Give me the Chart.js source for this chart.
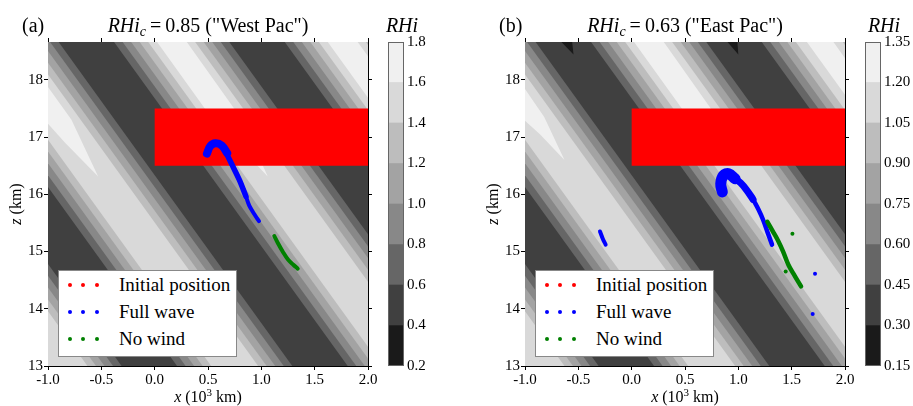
<!DOCTYPE html>
<html>
<head>
<meta charset="utf-8">
<script src="https://cdn.jsdelivr.net/npm/chart.js@4.4.1/dist/chart.umd.min.js"></script>
<style>
  body { margin:0; width:913px; height:406px; background:#fff; position:relative; overflow:hidden;
         font-family:"Liberation Serif","Times New Roman",serif; color:#000; }
  canvas { position:absolute; top:0; }
  .txt { position:absolute; white-space:nowrap; }
  .ttl { font-size:20px; line-height:22px; top:14px; }
  .axl { font-size:16px; line-height:20px; }
  .leg { position:absolute; top:270px; width:179px; height:87px; background:#fff;
         border:1px solid #888; box-sizing:border-box; }
  .leg .row { position:absolute; left:60px; font-size:19px; line-height:22px; white-space:nowrap; }
  .leg .dot { position:absolute; width:4px; height:4px; border-radius:50%; }
  .eq { padding:0 4px; }
  sub { font-size:14px; vertical-align:-4px; line-height:0; }
  sup { font-size:11px; vertical-align:6px; line-height:0; }
</style>
</head>
<body>
<canvas id="panelA" width="382" height="406" style="left:0px"></canvas>
<canvas id="barA" width="60" height="406" style="left:380px"></canvas>
<canvas id="panelB" width="382" height="406" style="left:477px"></canvas>
<canvas id="barB" width="56" height="406" style="left:857px"></canvas>
<div id="overlay"></div>
<script>
// ---- axes ----
const xRange = [-1, 2];          // x (10^3 km)
const zRange = [13, 18.66];      // z (km)
const xTicks = [-1.0, -0.5, 0.0, 0.5, 1.0, 1.5, 2.0];
const zTicks = [13, 14, 15, 16, 17, 18];

// ---- RHi contour levels of the two cases ----
const rhiCritical = [0.85, 0.63];
const caseNames = ['West Pac', 'East Pac'];
const rhiLevelsWest = [0.2, 0.4, 0.6, 0.8, 1.0, 1.2, 1.4, 1.6, 1.8];
const rhiLevelsEast = [0.15, 0.30, 0.45, 0.60, 0.75, 0.90, 1.05, 1.20, 1.35];

// ---- wave pattern: moist ridges run along lines of constant u = x + tilt*(z-13) ----
const ridgePhase = [-0.85, 0.75, 2.35, 3.95];
const ridgeTilt = 0.387;
// half width (in u) of the regions above the 3rd..7th contour level
const ridgeHalfWidth = [0.54, 0.46, 0.38, 0.30, 0.22];

// regions above the top contour level, [x, z] outlines
const topLevelWest = [
  [[-1.56, 18.6], [-1.28, 18.6], [-0.78, 17.3], [-0.53, 16.31], [-0.84, 16.9], [-1.13, 17.5]],
  [[-0.07, 18.9], [0.21, 18.9], [0.82, 17.3], [1.06, 16.31], [0.76, 16.9], [0.47, 17.5]],
  [[1.53, 18.9], [1.81, 18.9], [2.74, 16.5], [2.46, 16.5]]
];
const topLevelEast = [
  [[-1.56, 18.6], [-1.28, 18.6], [-0.82, 17.35], [-0.63, 16.6], [-0.86, 17.05], [-1.13, 17.5]],
  [[-0.07, 18.9], [0.21, 18.9], [0.78, 17.4], [0.95, 16.7], [0.72, 17.1], [0.47, 17.5]],
  [[1.55, 18.9], [1.80, 18.9], [2.72, 16.5], [2.48, 16.5]]
];
// regions below the lowest contour level (East Pac only)
const bottomLevelEast = [
  [[-0.68, 18.7], [-0.56, 18.7], [-0.545, 18.44]],
  [[0.88, 18.7], [0.99, 18.7], [1.0, 18.44]]
];

// ---- parcels ----
const initialBoxX = [0, 2];
const initialBoxZ = [16.5, 17.5];

const fullWaveWestHead = [[0.49, 16.71], [0.52, 16.84], [0.57, 16.89], [0.63, 16.85], [0.68, 16.72]];
const fullWaveWestTail = [[0.65, 16.80], [0.716, 16.55], [0.794, 16.25], [0.856, 15.96]];
const fullWaveWestEnd  = [[0.856, 15.96], [0.887, 15.80], [0.935, 15.65], [0.978, 15.53]];
const noWindWest = [[1.122, 15.27], [1.16, 15.13], [1.20, 15.00], [1.25, 14.86], [1.30, 14.77], [1.341, 14.70]];

const fullWaveEastHead = [[0.85, 16.04], [0.835, 16.18], [0.86, 16.33], [0.91, 16.36], [0.97, 16.27]];
const fullWaveEastTail = [[0.95, 16.30], [1.02, 16.20], [1.08, 16.07], [1.138, 15.91]];
const fullWaveEastEnd  = [[1.138, 15.91], [1.19, 15.73], [1.231, 15.56], [1.275, 15.33], [1.316, 15.12]];
const fullWaveEastWest = [[-0.297, 15.35], [-0.27, 15.22], [-0.244, 15.12]];
const fullWaveEastDots = [[1.719, 14.61], [1.697, 13.91]];
const noWindEast = [[1.272, 15.52], [1.33, 15.33], [1.375, 15.18], [1.42, 15.0], [1.469, 14.77], [1.53, 14.57], [1.588, 14.39]];
const noWindEastDots = [[1.507, 15.31], [1.444, 14.65]];

// ---- styling ----
const shades = ['#1a1a1a', '#404040', '#666666', '#888888', '#a3a3a3', '#bdbdbd', '#d9d9d9', '#f0f0f0'];
const RED = '#ff0000', BLUE = '#0000ff', GREEN = '#008000';

Chart.defaults.font.family = '"Liberation Serif", "Times New Roman", serif';
Chart.defaults.color = '#000';

const pts = arr => arr.map(([x, y]) => ({x, y}));
function joinPolys(polys) {
  const out = [];
  polys.forEach((p, i) => { if (i) out.push({x: null, y: null}); out.push(...p); });
  return out;
}
function ridgeBand(u, hw) {
  const zA = 12.5, zB = 19.2;
  const xAt = (p, z) => p - ridgeTilt * (z - 13);
  return [{x: xAt(u - hw, zA), y: zA}, {x: xAt(u + hw, zA), y: zA},
          {x: xAt(u + hw, zB), y: zB}, {x: xAt(u - hw, zB), y: zB}];
}
const area = (data, color, label) => ({type: 'line', label, data, fill: 'shape', backgroundColor: color,
  borderColor: 'rgba(0,0,0,0)', borderWidth: 0, pointRadius: 0, tension: 0});
const streak = (data, color, width, label) => ({type: 'line', label, data: pts(data), fill: false,
  borderColor: color, borderWidth: width, pointRadius: 0, tension: 0.35,
  borderCapStyle: 'round', borderJoinStyle: 'round'});
const dots = (data, color, label) => ({type: 'scatter', label, data: pts(data), showLine: false,
  pointRadius: 2, backgroundColor: color, borderWidth: 0});

function fieldLayers(topLevel, bottomLevel) {
  const layers = [];
  layers.push(area([{x: -1.5, y: 12.5}, {x: 2.5, y: 12.5}, {x: 2.5, y: 19.2}, {x: -1.5, y: 19.2}], shades[1], 'RHi'));
  ridgeHalfWidth.forEach((hw, k) => {
    layers.push(area(joinPolys(ridgePhase.map(u => ridgeBand(u, hw))), shades[2 + k], 'RHi'));
  });
  layers.push(area(joinPolys(topLevel.map(pts)), shades[7], 'RHi'));
  if (bottomLevel) layers.push(area(joinPolys(bottomLevel.map(pts)), shades[0], 'RHi'));
  const box = [[initialBoxX[0], initialBoxZ[0]], [initialBoxX[1] + 0.2, initialBoxZ[0]],
               [initialBoxX[1] + 0.2, initialBoxZ[1]], [initialBoxX[0], initialBoxZ[1]]];
  layers.push(area(pts(box), RED, 'Initial position'));
  return layers;
}

function axisOpts(axis, position, ticks, range, fmt, size) {
  const horiz = axis === 'x';
  return {
    type: 'linear', axis, position, min: range[0], max: range[1],
    afterBuildTicks: s => { s.ticks = ticks.map(v => ({value: v})); },
    ticks: {display: fmt !== null, callback: v => fmt ? fmt(v) : '', font: {size: 15},
            padding: 1, maxRotation: 0, autoSkip: false},
    grid: {drawOnChartArea: false, drawTicks: true, tickLength: 4, color: '#000', lineWidth: 1},
    border: {display: true, color: '#000', width: 1},
    afterFit: s => { if (horiz) s.height = size; else s.width = size; }
  };
}

function panel(id, layers) {
  return new Chart(document.getElementById(id), {
    type: 'scatter',
    data: {datasets: layers.map((d, i) => Object.assign({order: layers.length - i}, d))},
    options: {
      responsive: false, animation: false, devicePixelRatio: 1, events: [],
      layout: {padding: {top: 38, left: 0, right: 10, bottom: 0}},
      plugins: {legend: {display: false}, tooltip: {enabled: false}},
      scales: {
        x: axisOpts('x', 'bottom', xTicks, xRange, v => v.toFixed(1), 40),
        x2: axisOpts('x', 'top', xTicks, xRange, null, 4),
        y: axisOpts('y', 'left', zTicks, zRange, v => String(v), 48),
        y2: axisOpts('y', 'right', zTicks, zRange, null, 4)
      }
    }
  });
}

const outline = {
  id: 'outline',
  afterDatasetsDraw(chart) {
    const {ctx, chartArea: a} = chart;
    ctx.save();
    ctx.strokeStyle = '#666';
    ctx.lineWidth = 1;
    ctx.strokeRect(a.left + 0.5, a.top + 0.5, a.right - a.left - 1, a.bottom - a.top - 1);
    ctx.restore();
  }
};

function colourBar(id, levels, digits, axisWidth) {
  const datasets = levels.slice(0, -1).map((lo, i) => ({
    data: [[lo, levels[i + 1]]], backgroundColor: shades[i], borderWidth: 0,
    barPercentage: 1, categoryPercentage: 1, grouped: false
  }));
  return new Chart(document.getElementById(id), {
    type: 'bar',
    data: {labels: [''], datasets},
    options: {
      responsive: false, animation: false, devicePixelRatio: 1, events: [],
      layout: {padding: {top: 42, left: 8, right: 0, bottom: 40}},
      plugins: {legend: {display: false}, tooltip: {enabled: false}},
      scales: {
        x: {display: false, stacked: true},
        y: {
          position: 'right', min: levels[0], max: levels[levels.length - 1], stacked: false,
          afterBuildTicks: s => { s.ticks = levels.map(v => ({value: v})); },
          ticks: {callback: v => v.toFixed(digits), font: {size: 15}, padding: 3},
          grid: {display: false, drawTicks: false}, border: {display: false},
          afterFit: s => { s.width = axisWidth; }
        }
      }
    },
    plugins: [outline]
  });
}

// ---- (a) West Pac ----
const layersWest = fieldLayers(topLevelWest, null).concat([
  streak(fullWaveWestTail, BLUE, 5.5, 'Full wave'),
  streak(fullWaveWestEnd, BLUE, 4, 'Full wave'),
  streak(fullWaveWestHead, BLUE, 8, 'Full wave'),
  streak(noWindWest, GREEN, 4, 'No wind')
]);
panel('panelA', layersWest);
colourBar('barA', rhiLevelsWest, 1, 36);

// ---- (b) East Pac ----
const layersEast = fieldLayers(topLevelEast, bottomLevelEast).concat([
  streak(fullWaveEastTail, BLUE, 7, 'Full wave'),
  streak(fullWaveEastEnd, BLUE, 4.5, 'Full wave'),
  streak(fullWaveEastHead, BLUE, 11, 'Full wave'),
  streak(fullWaveEastWest, BLUE, 4, 'Full wave'),
  dots(fullWaveEastDots, BLUE, 'Full wave'),
  streak(noWindEast, GREEN, 4.5, 'No wind'),
  dots(noWindEastDots, GREEN, 'No wind')
]);
panel('panelB', layersEast);
colourBar('barB', rhiLevelsEast, 2, 32);

// ---- titles, axis labels and legends ----
const legendRows = [['Initial position', RED], ['Full wave', BLUE], ['No wind', GREEN]];
function decorate(dx, tag, i) {
  const plotL = 48 + dx, plotW = 320, cbC = 402 + dx + (i ? 5 : 0);
  let h = '';
  h += `<div class="txt ttl" style="left:${22 + dx}px">(${tag})</div>`;
  h += `<div class="txt ttl" style="left:${plotL}px;width:${plotW}px;text-align:center">` +
       `<i>RHi</i><sub><i>c</i></sub><span class="eq">=</span>${rhiCritical[i].toFixed(2)} (&quot;${caseNames[i]}&quot;)</div>`;
  h += `<div class="txt ttl" style="left:${cbC - 30}px;width:60px;text-align:center"><i>RHi</i></div>`;
  h += `<div class="txt axl" style="left:${plotL}px;width:${plotW}px;top:387px;text-align:center">` +
       `<i>x</i> (10<sup>3</sup> km)</div>`;
  h += `<div class="txt axl" style="left:${16 + dx - 40}px;top:194px;width:80px;text-align:center;transform:rotate(-90deg)">` +
       `<i>z</i> (km)</div>`;
  h += `<div class="leg" style="left:${58 + dx}px">`;
  legendRows.forEach(([label, col], r) => {
    const cy = 14 + r * 27;
    [11, 24.3, 37.7].forEach(cx => {
      h += `<span class="dot" style="left:${cx - 2}px;top:${cy - 2}px;background:${col}"></span>`;
    });
    h += `<div class="row" style="top:${cy - 11}px">${label}</div>`;
  });
  h += `</div>`;
  return h;
}
document.getElementById('overlay').innerHTML = decorate(0, 'a', 0) + decorate(477, 'b', 1);
</script>
</body>
</html>
